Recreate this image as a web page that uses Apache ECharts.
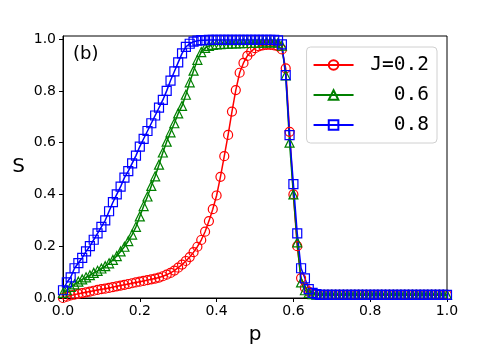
<!DOCTYPE html>
<html>
<head>
<meta charset="utf-8">
<title>ECharts</title>
<script src="https://cdn.jsdelivr.net/npm/echarts@6/dist/echarts.min.js"></script>
</head>
<body style="margin:0;background:#fff;">
<div id="main" style="width: 491px; height: 350px;"></div>
<script type="text/javascript">
// p grid: 0.00 .. 1.00 step 0.01
var pValues = [];
for (var i = 0; i <= 100; i++) pValues.push(+(i / 100).toFixed(2));

var tail = [0.012, 0.012, 0.012, 0.012, 0.012, 0.012, 0.012, 0.012, 0.012, 0.012,
	0.012, 0.012, 0.012, 0.012, 0.012, 0.012, 0.012, 0.012, 0.012, 0.012,
	0.012, 0.012, 0.012, 0.012, 0.012, 0.012, 0.012, 0.012, 0.012, 0.012,
	0.012, 0.012, 0.012, 0.012]; // p = 0.67 .. 1.00

var sJ02 = [0.0, 0.005, 0.01, 0.013, 0.016, 0.019, 0.022, 0.025, 0.028, 0.031,
	0.034, 0.036, 0.039, 0.042, 0.045, 0.048, 0.051, 0.054, 0.057, 0.060,
	0.063, 0.066, 0.069, 0.072, 0.075, 0.079, 0.084, 0.090, 0.097, 0.106,
	0.117, 0.129, 0.143, 0.158, 0.177, 0.198, 0.224, 0.256, 0.297, 0.343,
	0.396, 0.468, 0.548, 0.630, 0.720, 0.803, 0.870, 0.908, 0.935, 0.952,
	0.965, 0.972, 0.976, 0.978, 0.978, 0.976, 0.972, 0.960, 0.887, 0.642,
	0.400, 0.200, 0.077, 0.040, 0.025, 0.018, 0.014].concat(tail);

var sJ06 = [0.02, 0.03, 0.043, 0.053, 0.063, 0.072, 0.080, 0.088, 0.097, 0.105,
	0.114, 0.123, 0.134, 0.147, 0.162, 0.180, 0.198, 0.220, 0.245, 0.275,
	0.315, 0.355, 0.392, 0.433, 0.470, 0.515, 0.562, 0.604, 0.640, 0.675,
	0.713, 0.742, 0.785, 0.833, 0.878, 0.920, 0.950, 0.966, 0.974, 0.978,
	0.980, 0.981, 0.982, 0.982, 0.983, 0.983, 0.984, 0.984, 0.985, 0.985,
	0.986, 0.986, 0.986, 0.987, 0.987, 0.987, 0.986, 0.975, 0.860, 0.600,
	0.400, 0.215, 0.060, 0.030, 0.020, 0.015, 0.013].concat(tail);

var sJ08 = [0.03, 0.06, 0.08, 0.115, 0.135, 0.155, 0.180, 0.200, 0.225, 0.250,
	0.275, 0.300, 0.335, 0.370, 0.400, 0.430, 0.465, 0.490, 0.520, 0.550,
	0.585, 0.615, 0.645, 0.675, 0.705, 0.735, 0.765, 0.800, 0.840, 0.875,
	0.910, 0.945, 0.970, 0.982, 0.990, 0.994, 0.996, 0.996, 0.997, 0.997,
	0.997, 0.997, 0.997, 0.997, 0.997, 0.997, 0.997, 0.997, 0.997, 0.997,
	0.997, 0.997, 0.997, 0.997, 0.997, 0.997, 0.995, 0.980, 0.861, 0.629,
	0.440, 0.250, 0.115, 0.076, 0.034, 0.020, 0.015].concat(tail);

var seriesNames = ['J=0.2', '0.6', '0.8'];
var tickValues = [0, 0.2, 0.4, 0.6, 0.8, 1.0];

function pairs(ys) {
	var out = [];
	for (var i = 0; i < ys.length; i++) out.push([pValues[i], ys[i]]);
	return out;
}

function makeSeries(name, ys, color, symbol, size) {
	return {
		name: name,
		type: 'line',
		data: pairs(ys),
		symbol: symbol,
		symbolSize: size,
		showAllSymbol: true,
		lineStyle: { color: color, width: 1.5 },
		itemStyle: { color: 'rgba(255,255,255,0)', borderColor: color, borderWidth: 1.2, opacity: 1 },
		emphasis: { disabled: true }
	};
}

var myChart = echarts.init(document.getElementById('main'));
var axisFont = { fontFamily: 'DejaVu Sans', fontSize: 14, color: '#000' };

var option = {
	animation: false,
	backgroundColor: '#fff',
	title: {
		text: '(b)',
		left: 68,
		top: 40,
		textStyle: { fontFamily: 'DejaVu Sans', fontSize: 18, fontWeight: 'normal', color: '#000' }
	},
	grid: {
		left: 63, right: 44, top: 36, bottom: 52,
		show: true, borderColor: '#000', borderWidth: 1,
		containLabel: false
	},
	legend: {
		right: 54,
		top: 47,
		orient: 'vertical',
		data: seriesNames,
		itemWidth: 40,
		itemHeight: 12,
		itemGap: 10,
		padding: [8, 8, 8, 6],
		borderColor: '#d0d0d0',
		borderWidth: 1,
		borderRadius: 4,
		backgroundColor: '#fff',
		formatter: function (name) {
			// monospace right alignment, like the reference
			var s = name;
			while (s.length < 6) s = ' ' + s;
			return s;
		},
		textStyle: { fontFamily: 'DejaVu Sans Mono', fontSize: 19.5, color: '#000' }
	},
	xAxis: {
		type: 'value',
		min: 0, max: 1, interval: 0.2,
		name: 'p',
		nameLocation: 'middle',
		nameGap: 27,
		nameTextStyle: { fontFamily: 'DejaVu Sans', fontSize: 20, color: '#000' },
		splitLine: { show: false },
		axisLine: { onZero: false, lineStyle: { color: '#000', width: 1 } },
		axisTick: { show: true, inside: false, length: 4, lineStyle: { color: '#000' } },
		axisLabel: Object.assign({ margin: 6, formatter: function (v) { return v.toFixed(1); } }, axisFont)
	},
	yAxis: {
		type: 'value',
		min: 0, max: 1.012,
		name: 'S',
		nameLocation: 'middle',
		nameRotate: 0,
		nameGap: 38,
		nameTextStyle: { fontFamily: 'DejaVu Sans', fontSize: 20, color: '#000' },
		splitLine: { show: false },
		axisLine: { onZero: false, lineStyle: { color: '#000', width: 1 } },
		axisTick: { show: true, inside: false, length: 4, customValues: tickValues, lineStyle: { color: '#000' } },
		axisLabel: Object.assign({ margin: 7, customValues: tickValues, formatter: function (v) { return v.toFixed(1); } }, axisFont)
	},
	series: [
		makeSeries(seriesNames[0], sJ02, '#ff0000', 'circle', 9),
		makeSeries(seriesNames[1], sJ06, '#008000', 'triangle', 9),
		makeSeries(seriesNames[2], sJ08, '#0000ff', 'rect', 9)
	]
};
myChart.setOption(option);
</script>
</body>
</html>
